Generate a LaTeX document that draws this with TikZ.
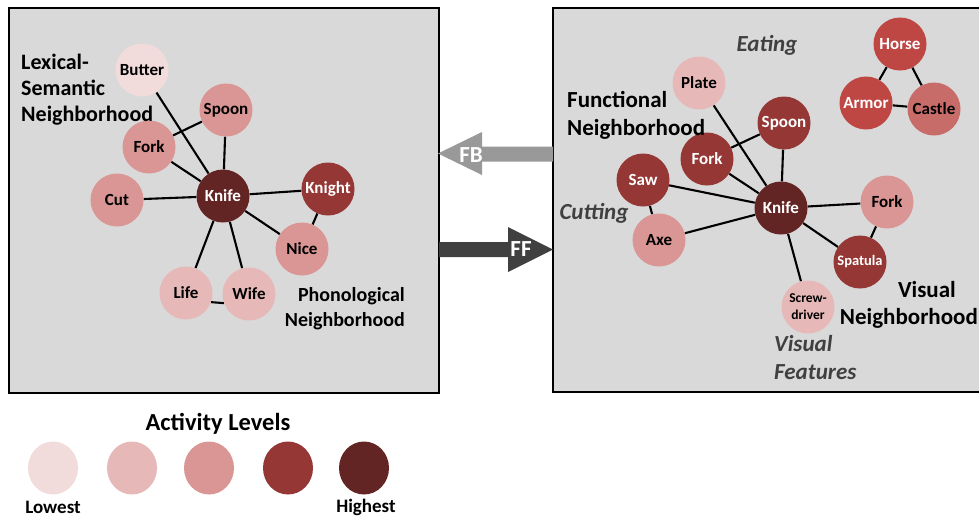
\documentclass[tikz,border=0pt]{standalone}
\usepackage{fontspec}
\setmainfont{Carlito}
\usetikzlibrary{shapes.geometric}
\pgfdeclarelayer{panelbg}
\pgfdeclarelayer{edgelayer}
\pgfsetlayers{panelbg,edgelayer,main}
\definecolor{lvA}{HTML}{F2DCDB}
\definecolor{lvB}{HTML}{E6B9B8}
\definecolor{lvC}{HTML}{D99694}
\definecolor{lvD}{HTML}{953735}
\definecolor{lvE}{HTML}{632523}
\definecolor{redA}{HTML}{BE4744}
\definecolor{redB}{HTML}{C86C69}
\definecolor{boxbg}{HTML}{D9D9D9}
\definecolor{labgray}{HTML}{404040}
\definecolor{fbgray}{HTML}{999999}
\definecolor{ffdark}{HTML}{404040}
\begin{document}
\begin{tikzpicture}[x=1pt,y=-1pt,
  circ/.style={circle,inner sep=0pt,minimum size=53pt,font=\fontsize{17}{18}\selectfont\bfseries},
  dk/.style={circ,text=black},
  wt/.style={circ,text=white},
  edge/.style={line width=2.1pt,black},
  head/.style={font=\fontsize{22}{26}\selectfont\bfseries,align=left,inner sep=0pt},
  headr/.style={font=\fontsize{22}{26}\selectfont\bfseries,align=right,inner sep=0pt},
  ital/.style={font=\fontsize{23}{28}\selectfont\bfseries\itshape,text=labgray,inner sep=0pt,align=left},
  legc/.style={ellipse,minimum width=50pt,minimum height=53pt,inner sep=0pt},
  panel/.style={fill=boxbg,draw=black,line width=1.5pt}]
\useasboundingbox (0,0) rectangle (979,517);
\begin{pgfonlayer}{panelbg}
\fill[white] (0,0) rectangle (979,517);
\draw[panel] (9,8) rectangle (439,393);
\draw[panel] (553,8) rectangle (981,392);
\end{pgfonlayer}

% ---------- left panel ----------
\node[dk,fill=lvA] (lbut) at (142,70) {Butter};
\node[dk,fill=lvC] (lspo) at (226,110) {Spoon};
\node[dk,fill=lvC] (lfor) at (149,147) {Fork};
\node[dk,fill=lvC] (lcut) at (117,200) {Cut};
\node[wt,fill=lvE] (lkni) at (223,196) {Knife};
\node[wt,fill=lvD] (lkng) at (328,189) {Knight};
\node[dk,fill=lvC] (lnic) at (302,249) {Nice};
\node[dk,fill=lvB] (llif) at (186,293) {Life};
\node[dk,fill=lvB] (lwif) at (249,294) {Wife};
\node[head,anchor=north west] (lextxt) at (21,54) {Lexical-\\Semantic\\Neighborhood};
\node[headr,anchor=north east,font=\fontsize{20}{25}\selectfont\bfseries] (photxt) at (405,287) {Phonological\\Neighborhood};

% ---------- right panel ----------
\node[wt,fill=redA] (rhor) at (900,44) {Horse};
\node[wt,fill=redA] (rarm) at (866,103) {Armor};
\node[dk,fill=redB] (rcas) at (934,109) {Castle};
\node[dk,fill=lvB] (rpla) at (699,83) {Plate};
\node[wt,fill=lvD] (rspo) at (784,123) {Spoon};
\node[wt,fill=lvD] (rfor) at (707,159) {Fork};
\node[wt,fill=lvD] (rsaw) at (643,180) {Saw};
\node[dk,fill=lvC] (raxe) at (659,240) {Axe};
\node[wt,fill=lvE] (rkni) at (781,208) {Knife};
\node[dk,fill=lvC] (rfo2) at (887,202) {Fork};
\node[wt,fill=lvD,font=\fontsize{14.5}{16}\selectfont\bfseries] (rspa) at (860,262) {Spatula};
\node[dk,fill=lvB,align=center,font=\fontsize{13.5}{17}\selectfont\bfseries] (rscr) at (808,307) {Screw-\\driver};

\node[head,anchor=north west,font=\fontsize{23}{28}\selectfont\bfseries] (funtxt) at (567,91) {Functional\\Neighborhood};
\node[headr,anchor=north east,font=\fontsize{23}{27}\selectfont\bfseries] (vistxt) at (978,281) {Visual\hspace*{22pt}\\Neighborhood};
\node[ital] (eattxt) at (767,45) {Eating};
\node[ital] (cuttxt) at (594,213) {Cutting};
\node[ital,anchor=north west] (vftxt) at (774,335) {Visual\\Features};

% ---------- edges (behind nodes) ----------
\begin{pgfonlayer}{edgelayer}
\draw[edge] (lbut) -- (lkni);
\draw[edge] (lspo) -- (lkni);
\draw[edge] (lfor) -- (lspo);
\draw[edge] (lfor) -- (lkni);
\draw[edge] (lcut) -- (lkni);
\draw[edge] (lkni) -- (lkng);
\draw[edge] (lkni) -- (lnic);
\draw[edge] (lkng) -- (lnic);
\draw[edge] (lkni) -- (llif);
\draw[edge] (lkni) -- (lwif);
\draw[edge] (llif.-20) -- (lwif.200);
\draw[edge] (rhor) -- (rarm);
\draw[edge] (rhor) -- (rcas);
\draw[edge] (rarm) -- (rcas);
\draw[edge] (rpla) -- (rkni);
\draw[edge] (rspo) -- (rkni);
\draw[edge] (rfor) -- (rspo);
\draw[edge] (rfor) -- (rkni);
\draw[edge] (rsaw) -- (rkni);
\draw[edge] (rsaw) -- (raxe);
\draw[edge] (raxe) -- (rkni);
\draw[edge] (rkni) -- (rfo2);
\draw[edge] (rfo2) -- (rspa);
\draw[edge] (rkni) -- (rspa);
\draw[edge] (rkni) -- (rscr);
\end{pgfonlayer}

% ---------- arrows ----------
\fill[fbgray] (553,146.5) -- (482,146.5) -- (482,132) -- (438,153.5) -- (482,175) -- (482,161.5) -- (553,161.5) -- cycle;
\node[font=\fontsize{23}{26}\selectfont\bfseries,text=white,inner sep=0pt] (fbtxt) at (471,155) {FB};
\fill[ffdark] (439,242) -- (508,242) -- (508,227) -- (553,249.5) -- (508,272) -- (508,257) -- (439,257) -- cycle;
\node[font=\fontsize{23}{26}\selectfont\bfseries,text=white,inner sep=0pt] (fftxt) at (521,249) {FF};

% ---------- legend ----------
\node[font=\fontsize{24.5}{28}\selectfont\bfseries,inner sep=0pt] (acttxt) at (218,424) {Activity Levels};
\node[legc,fill=lvA] (leg1) at (53,468) {};
\node[legc,fill=lvB] (leg2) at (132,468) {};
\node[legc,fill=lvC] (leg3) at (209,468) {};
\node[legc,fill=lvD] (leg4) at (288,468) {};
\node[legc,fill=lvE] (leg5) at (364,468) {};
\node[font=\fontsize{19}{22}\selectfont\bfseries,inner sep=0pt] (lowtxt) at (53,507) {Lowest};
\node[font=\fontsize{19}{22}\selectfont\bfseries,inner sep=0pt] (hightxt) at (366,507) {Highest};
\end{tikzpicture}
\end{document}
